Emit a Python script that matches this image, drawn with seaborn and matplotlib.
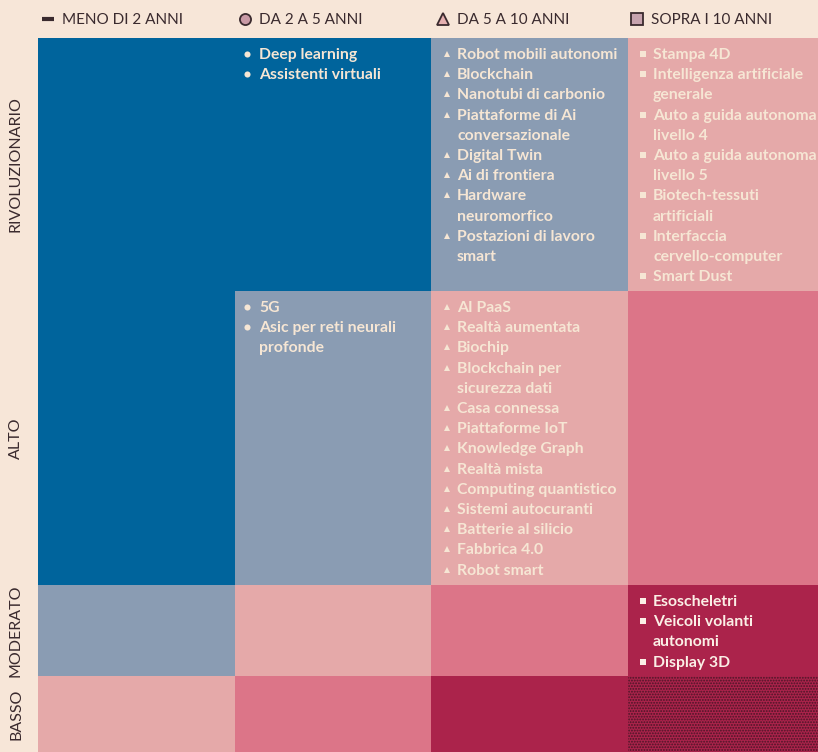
import numpy as np
import pandas as pd
import matplotlib
matplotlib.use("Agg")
import matplotlib.pyplot as plt
from matplotlib.colors import ListedColormap
from matplotlib.patches import Rectangle
import seaborn as sns

# ---------------- data ----------------
columns = ["MENO DI 2 ANNI", "DA 2 A 5 ANNI", "DA 5 A 10 ANNI", "SOPRA I 10 ANNI"]
rows = ["RIVOLUZIONARIO", "ALTO", "MODERATO", "BASSO"]
levels_riv = [0, 0, 1, 2]
levels_alto = [0, 1, 2, 3]
levels_mod = [1, 2, 3, 4]
levels_basso = [2, 3, 4, 5]
levels = [levels_riv, levels_alto, levels_mod, levels_basso]

items_riv_2a5 = ["Deep learning", "Assistenti virtuali"]
items_riv_5a10 = ["Robot mobili autonomi", "Blockchain", "Nanotubi di carbonio",
                  "Piattaforme di Ai\nconversazionale", "Digital Twin", "Ai di frontiera",
                  "Hardware\nneuromorfico", "Postazioni di lavoro\nsmart"]
items_riv_oltre10 = ["Stampa 4D", "Intelligenza artificiale\ngenerale",
                     "Auto a guida autonoma\nlivello 4", "Auto a guida autonoma\nlivello 5",
                     "Biotech-tessuti\nartificiali", "Interfaccia\ncervello-computer", "Smart Dust"]
items_alto_2a5 = ["5G", "Asic per reti neurali\nprofonde"]
items_alto_5a10 = ["AI PaaS", "Realtà aumentata", "Biochip", "Blockchain per\nsicurezza dati",
                   "Casa connessa", "Piattaforme IoT", "Knowledge Graph", "Realtà mista",
                   "Computing quantistico", "Sistemi autocuranti", "Batterie al silicio",
                   "Fabbrica 4.0", "Robot smart"]
items_mod_oltre10 = ["Esoscheletri", "Veicoli volanti\nautonomi", "Display 3D"]

# (row, col, items)
cell_items = [(0, 1, items_riv_2a5), (0, 2, items_riv_5a10), (0, 3, items_riv_oltre10),
              (1, 1, items_alto_2a5), (1, 2, items_alto_5a10), (2, 3, items_mod_oltre10)]

# ---------------- style ----------------
BG = "#f7e6d8"
palette = ["#00649c", "#8a9cb3", "#e5a9a9", "#dc7588", "#ab234b", "#ab234b"]
TXT = "#f6e6d4"
DARK = "#3a2a2e"
FONT = "Lato"

W, H = 818, 752
fig = plt.figure(figsize=(W / 100, H / 100), dpi=100, facecolor=BG)
row_px = [38, 291, 585, 676, 752]
col_px = [38, 235, 432, 628, 825]
cmap = ListedColormap(palette)
plt.rcParams["hatch.linewidth"] = 0.9

for i, r in enumerate(rows):
    ax = fig.add_axes([col_px[0] / W, 1 - row_px[i + 1] / H,
                       (col_px[-1] - col_px[0]) / W, (row_px[i + 1] - row_px[i]) / H])
    df = pd.DataFrame([levels[i]], columns=columns, index=[r])
    sns.heatmap(df, ax=ax, cmap=cmap, vmin=-0.5, vmax=5.5, cbar=False,
                xticklabels=False, yticklabels=False, linewidths=0)
    ax.set_xlabel("")
    ax.set_ylabel("")
    for j, v in enumerate(levels[i]):
        if v == 5:
            ax.add_patch(Rectangle((j, 0), 1, 1, facecolor="none", edgecolor="#4a1526",
                                   hatch="......", linewidth=0))

# overlay in pixel coordinates
ov = fig.add_axes([0, 0, 1, 1], facecolor="none")
ov.set_xlim(0, W)
ov.set_ylim(H, 0)
ov.axis("off")

# row labels
for i, r in enumerate(rows):
    yc = (row_px[i] + row_px[i + 1]) / 2
    ov.text(16, yc, r, rotation=90, ha="center", va="center", fontsize=11.5,
            color=DARK, family=FONT)

# legend
leg_x = [48, 245, 443, 637]
leg_markers = [("_", 12, DARK, DARK), ("o", 8, "#c99aa6", DARK),
               ("^", 8, "#e5b0b0", DARK), ("s", 8, "#c7a3ae", DARK)]
for x, name, (m, s, fc, ec) in zip(leg_x, columns, leg_markers):
    if m == "_":
        ov.plot([x - 6, x + 6], [19, 19], color=DARK, lw=3, solid_capstyle="butt")
    else:
        ov.plot([x], [19], marker=m, markersize=s, markerfacecolor=fc,
                markeredgecolor=ec, markeredgewidth=1.3, linestyle="none")
    ov.text(x + 14, 19.5, name, ha="left", va="center", fontsize=11,
            color=DARK, family=FONT)

# cell texts
bullets = {1: ("o", 4.4), 2: ("^", 4.4), 3: ("s", 4.0)}
bullet_dx = {1: 12, 2: 15, 3: 15}
text_dx = {1: 24, 2: 25, 3: 25}
LH = 20.2
for (ri, ci, items) in cell_items:
    top = row_px[ri] + 17
    x0 = col_px[ci]
    color = "#fbefe6" if ri == 2 else TXT
    line = 0
    for it in items:
        y = top + line * LH
        m, s = bullets[ci]
        ov.plot([x0 + bullet_dx[ci]], [y - 1], marker=m, markersize=s, color=color,
                markeredgewidth=0, linestyle="none")
        for k, part in enumerate(it.split("\n")):
            ov.text(x0 + text_dx[ci], y + k * LH, part, ha="left", va="center",
                    fontsize=11.3, fontweight="bold", color=color, family=FONT)
        line += it.count("\n") + 1

fig.savefig("out.png", dpi=100, facecolor=BG)
